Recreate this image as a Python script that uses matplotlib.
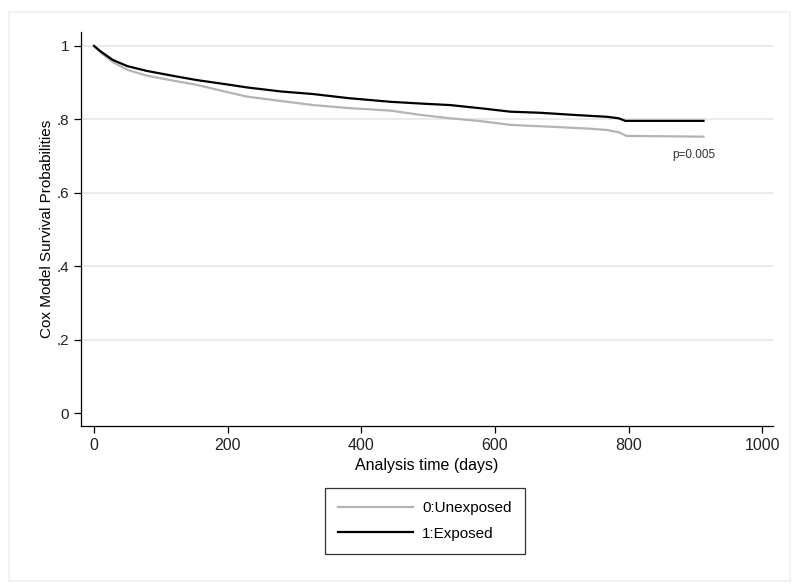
import matplotlib
matplotlib.use("Agg")
import matplotlib.pyplot as plt
from matplotlib.patches import Rectangle
from matplotlib import font_manager

# survival estimates (days, probability)
days_exposed = [0, 10, 28, 50, 79, 120, 154, 200, 229, 280, 328, 380, 443,
                490, 533, 580, 623, 668, 720, 768, 785, 795, 912]
surv_exposed = [1.0, 0.985, 0.962, 0.945, 0.932, 0.918, 0.907, 0.895, 0.887,
                0.876, 0.869, 0.858, 0.848, 0.843, 0.839, 0.830, 0.821, 0.818,
                0.812, 0.807, 0.803, 0.796, 0.796]

days_unexposed = [0, 10, 28, 50, 79, 120, 154, 200, 229, 280, 328, 380, 443,
                  490, 533, 580, 623, 683, 740, 768, 785, 797, 912]
surv_unexposed = [1.0, 0.982, 0.956, 0.935, 0.919, 0.905, 0.894, 0.874, 0.862,
                  0.850, 0.839, 0.831, 0.824, 0.812, 0.803, 0.795, 0.785, 0.780,
                  0.775, 0.771, 0.765, 0.755, 0.753]

x_ticks = [0, 200, 400, 600, 800, 1000]
y_ticks = [0, 0.2, 0.4, 0.6, 0.8, 1.0]
y_tick_labels = ["0", ".2", ".4", ".6", ".8", "1"]
labels = ["0:Unexposed", "1:Exposed"]
p_text = "p=0.005"

names = {f.name for f in font_manager.fontManager.ttflist}
narrow = "Liberation Sans Narrow" if "Liberation Sans Narrow" in names else "Liberation Sans"
plt.rcParams["font.family"] = ["Liberation Sans", "DejaVu Sans"]

fig = plt.figure(figsize=(8, 5.88), dpi=100)
fig.patches.append(Rectangle((9 / 800, 1 - 581 / 588), 781 / 800, 569 / 588,
                             transform=fig.transFigure, fill=False,
                             edgecolor="#edf1f2", linewidth=1.2))

ax = fig.add_axes([81 / 800, 1 - 426 / 588, 692 / 800, 394 / 588])
ax.set_xlim(-19.5, 1016)
ax.set_ylim(-0.035, 1.038)

for yv in y_ticks[1:]:
    ax.axhline(yv, color="#e6e6e6", linewidth=1.2, zorder=0)

ax.plot(days_unexposed, surv_unexposed, color="#b4b4b4", lw=1.6, label=labels[0])
ax.plot(days_exposed, surv_exposed, color="black", lw=1.6, label=labels[1])

ax.text(897, 0.703, p_text, ha="center", va="center", fontsize=8.5, color="#333333")

ax.spines["top"].set_visible(False)
ax.spines["right"].set_visible(False)
ax.spines["left"].set_linewidth(0.9)
ax.spines["bottom"].set_linewidth(0.9)

ax.set_xticks(x_ticks)
ax.set_xticklabels([str(v) for v in x_ticks], fontfamily=narrow, fontsize=11.5)
ax.set_yticks(y_ticks)
ax.set_yticklabels(y_tick_labels, fontsize=11)
ax.tick_params(direction="out", length=5, width=0.9, color="black", labelcolor="#222222")

ax.set_xlabel("Analysis time (days)", fontfamily=narrow, fontsize=11.5, labelpad=4)
ax.set_ylabel("Cox Model Survival Probabilities", fontsize=11, labelpad=2)

leg = fig.legend(loc="center", bbox_to_anchor=(425 / 800, 1 - 521 / 588),
                 fontsize=11, handlelength=4.9, handletextpad=0.6,
                 labelspacing=0.75, borderpad=0.85, fancybox=False)
leg.get_frame().set_edgecolor("black")
leg.get_frame().set_linewidth(0.9)

fig.savefig("out.png", dpi=100)
